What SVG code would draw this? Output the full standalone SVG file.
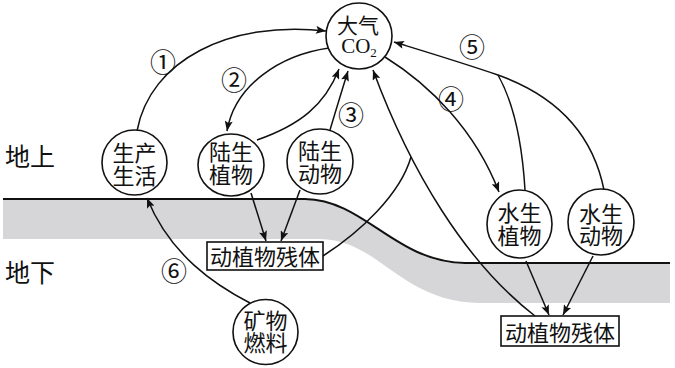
<svg xmlns="http://www.w3.org/2000/svg" width="675" height="368" viewBox="0 0 675 368">
<style>
.cjk{font-family:"Noto Sans CJK SC","Noto Sans",sans-serif;fill:#111;}
.nt{font-size:22px;text-anchor:middle;}
.lbl{font-size:25px;}
.num{font-family:"Noto Sans CJK SC","DejaVu Sans",sans-serif;font-size:26px;text-anchor:middle;fill:#111;}
.nd{fill:#fff;stroke:#111;stroke-width:1.6;}
.cn{fill:none;stroke:#111;stroke-width:1.5;}
.ar{marker-end:url(#ah);}
</style>
<defs>
<marker id="ah" viewBox="0 0 10 8" refX="10" refY="4" markerWidth="11" markerHeight="8" orient="auto" markerUnits="userSpaceOnUse">
<path d="M0,0 L10,4 L0,8 L2,4 Z" fill="#111"/>
</marker>
</defs>
<rect width="675" height="368" fill="#fff"/>
<g id="ground">
<path d="M3,199 L305,199 C365,200 395,263 465,264 L670,264 L670,303 L480,303 C400,302 380,240 320,239 L3,239 Z" fill="#d6d6d8"/>
<path d="M3,199 L305,199 C365,200 395,262 465,263 L670,263" fill="none" stroke="#111" stroke-width="2"/>
</g>
<g id="labels">
<text class="cjk lbl" x="5" y="166">地上</text>
<text class="cjk lbl" x="5" y="282">地下</text>
<text class="num" x="163" y="72">①</text>
<text class="num" x="234" y="90">②</text>
<text class="num" x="351" y="125">③</text>
<text class="num" x="451" y="109">④</text>
<text class="num" x="472" y="57">⑤</text>
<text class="num" x="174" y="281">⑥</text>
</g>
<g id="connectors">
<path class="cn ar" d="M137,131 C150,60 230,20 326,31"/>
<path class="cn ar" d="M329,48 C280,55 235,85 227,131"/>
<path class="cn ar" d="M257,140 C300,125 325,105 339,69"/>
<path class="cn ar" d="M330,130 C336,110 342,90 348,71"/>
<path class="cn ar" d="M535,316 C465,262 410,170 373,70"/>
<path class="cn" d="M323,256 C360,232 400,195 411,157"/>
<path class="cn ar" d="M385,57 C430,85 475,130 499,192"/>
<path class="cn ar" d="M604,190 C590,120 540,90 498,75 C460,62 420,50 394,42"/>
<path class="cn" d="M525,190 C522,140 512,100 498,75"/>
<path class="cn ar" d="M250,303 C215,285 170,255 147,198"/>
<path class="cn ar" d="M251,193 L266,241"/>
<path class="cn ar" d="M300,190 L281,241"/>
<path class="cn ar" d="M526,261 L549,315"/>
<path class="cn ar" d="M593,256 L563,315"/>
</g>
<g id="co2">
<circle class="nd" cx="359" cy="36" r="33"/>
<text class="cjk nt" x="358" y="33" style="font-size:21px">大气</text>
<text x="359" y="53" text-anchor="middle" font-family="Liberation Serif, serif" font-size="21" fill="#111">CO<tspan font-size="13" dy="4">2</tspan></text>
</g>
<g id="shengchan">
<ellipse class="nd" cx="134.5" cy="162.5" rx="32.5" ry="32.5"/>
<text class="cjk nt"><tspan x="134.5" y="161">生产</tspan><tspan x="134.5" y="184">生活</tspan></text>
</g>
<g id="lusheng-zhiwu">
<ellipse class="nd" cx="231" cy="165" rx="33" ry="31"/>
<text class="cjk nt"><tspan x="231" y="160">陆生</tspan><tspan x="231" y="183">植物</tspan></text>
</g>
<g id="lusheng-dongwu">
<ellipse class="nd" cx="320" cy="161.5" rx="33" ry="32.5"/>
<text class="cjk nt"><tspan x="320" y="159">陆生</tspan><tspan x="320" y="182">动物</tspan></text>
</g>
<g id="shuisheng-zhiwu">
<ellipse class="nd" cx="519.5" cy="224" rx="32.5" ry="34"/>
<text class="cjk nt"><tspan x="519.5" y="221">水生</tspan><tspan x="519.5" y="244">植物</tspan></text>
</g>
<g id="shuisheng-dongwu">
<ellipse class="nd" cx="601" cy="222" rx="33" ry="33"/>
<text class="cjk nt"><tspan x="601" y="222">水生</tspan><tspan x="601" y="244">动物</tspan></text>
</g>
<g id="kuangwu">
<ellipse class="nd" cx="265.5" cy="332" rx="32.5" ry="32.5"/>
<text class="cjk nt"><tspan x="265.5" y="329">矿物</tspan><tspan x="265.5" y="351">燃料</tspan></text>
</g>
<g id="canti-1">
<rect class="nd" x="207" y="242" width="116" height="28"/>
<text class="cjk nt" x="265" y="265">动植物残体</text>
</g>
<g id="canti-2">
<rect class="nd" x="501" y="316" width="118" height="30"/>
<text class="cjk nt" x="560" y="341">动植物残体</text>
</g>
</svg>
